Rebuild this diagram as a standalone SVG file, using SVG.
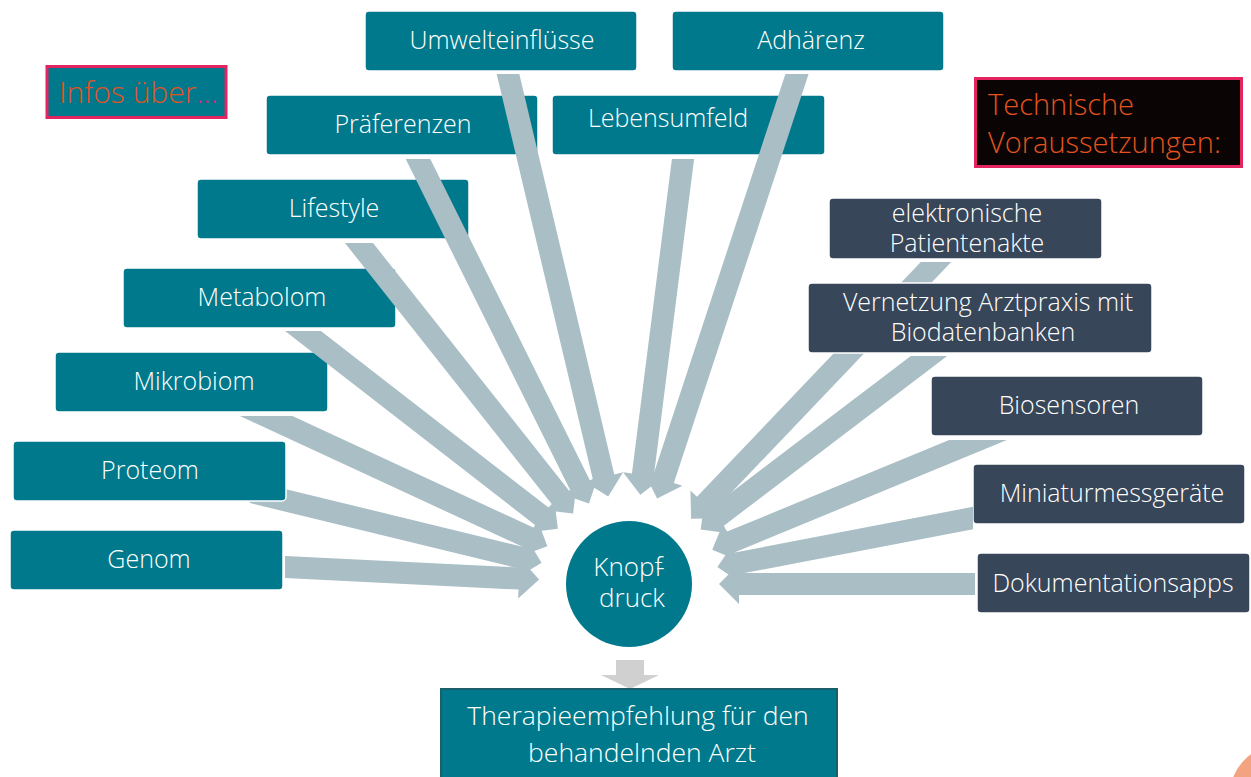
<svg xmlns="http://www.w3.org/2000/svg" width="1251" height="777" viewBox="0 0 1251 777">
<style>
.t{fill:#00798C;stroke:#ffffff;stroke-width:1.5}
.d{fill:#374659;stroke:#ffffff;stroke-width:1.5}
.lb{font-family:"Open Sans","Noto Sans",sans-serif;font-size:25px;font-weight:300;fill:#ffffff;text-anchor:middle}
.arr{fill:#AABEC5}
.hd{font-family:"Open Sans","Noto Sans",sans-serif;font-size:29px;font-weight:300;fill:#E2531F}
</style>
<rect width="1251" height="777" fill="#ffffff"/>
<circle cx="1280" cy="795" r="50" fill="#F4A380"/>

<g id="infos">
<rect x="47" y="66.5" width="179" height="51" fill="#00798C" stroke="#E3245F" stroke-width="3"/>
<text x="59" y="103" class="hd" style="font-size:30px">Infos über<tspan fill="#D1287A">…</tspan></text>
</g>
<g id="technische">
<rect x="975.5" y="78.5" width="266" height="88" fill="#0A0404" stroke="#E3245F" stroke-width="3"/>
<text x="988" y="115" class="hd">Technische<tspan x="988" dy="38">Voraussetzungen:</tspan></text>
</g>

<g id="umwelt"><rect class="t" x="365" y="11" width="272" height="60" rx="4"/><text class="lb" x="502" y="49">Umwelteinflüsse</text></g>
<g id="adhaerenz"><rect class="t" x="672" y="11" width="272" height="60" rx="4"/><text class="lb" x="811" y="49">Adhärenz</text></g>
<g id="praeferenzen"><rect class="t" x="266" y="95" width="272" height="60" rx="4"/><text class="lb" x="403" y="133">Präferenzen</text></g>
<g id="lebensumfeld"><rect class="t" x="552" y="95" width="273" height="60" rx="4"/><text class="lb" x="668" y="127">Lebensumfeld</text></g>
<g id="lifestyle"><rect class="t" x="197" y="179" width="272" height="60" rx="4"/><text class="lb" x="334" y="217">Lifestyle</text></g>
<g id="metabolom"><rect class="t" x="123" y="268" width="273" height="60" rx="4"/><text class="lb" x="262" y="306">Metabolom</text></g>
<g id="mikrobiom"><rect class="t" x="55" y="352" width="273" height="60" rx="4"/><text class="lb" x="194" y="390">Mikrobiom</text></g>
<g id="genom"><rect class="t" x="10" y="530" width="273" height="60" rx="4"/><text class="lb" x="149" y="568">Genom</text></g>

<g id="epa"><rect class="d" x="829" y="198" width="273" height="61" rx="4"/><text class="lb" x="967" y="222">elektronische<tspan x="967" dy="30">Patientenakte</tspan></text></g>
<g id="biosensoren"><rect class="d" x="931" y="376" width="272" height="60" rx="4"/><text class="lb" x="1069" y="414">Biosensoren</text></g>
<g id="miniatur"><rect class="d" x="973" y="464" width="272" height="60" rx="4"/><text class="lb" x="1112" y="502">Miniaturmessgeräte</text></g>
<g id="doku"><rect class="d" x="977" y="553" width="273" height="60" rx="4"/><text class="lb" x="1113" y="592">Dokumentationsapps</text></g>

<g id="connectors">
<polygon class="arr" points="285,578 518.59,589.56 518.14,598.55 539.11,579.56 520.12,558.59 519.67,567.58 285,556"/>
<polygon class="arr" points="250,503.07 519.52,568.68 517.39,577.42 541.55,562.72 526.85,538.56 524.72,547.3 250,480.43"/>
<polygon class="arr" points="240,416 524.56,547.77 520.78,555.94 547.33,546.19 537.58,519.64 533.8,527.81 292.4,416"/>
<polygon class="arr" points="285.06,331 535.36,525.25 529.84,532.36 557.9,528.82 554.36,500.76 548.84,507.87 320.94,331"/>
<polygon class="arr" points="344.97,243 552.09,504.59 545.03,510.18 573.13,513.44 576.39,485.35 569.33,490.93 373.03,243"/>
<polygon class="arr" points="405.72,159 570.24,490.37 562.18,494.37 588.98,503.39 598,476.59 589.94,480.59 430.28,159"/>
<polygon class="arr" points="496.69,74 592.9,479.51 584.14,481.59 608.22,496.43 623.06,472.35 614.3,474.43 519.31,74"/>
<polygon class="arr" points="671.91,159 631.95,473.49 623.02,472.36 640.34,494.72 662.7,477.4 653.77,476.27 694.09,159"/>
<polygon class="arr" points="785.42,74 652.97,476.08 644.42,473.26 657.16,498.52 682.42,485.78 673.87,482.96 808.58,74"/>
<polygon class="arr" points="920.8,262 696.94,496.79 690.43,490.58 691.1,518.86 719.38,518.18 712.86,511.97 951.2,262"/>
<polygon class="arr" points="910.82,356 709.92,508.68 704.47,501.52 700.65,529.54 728.67,533.36 723.23,526.2 947.18,356"/>
<polygon class="arr" points="949.16,440 726.49,531.87 723.06,523.55 712.2,549.67 738.32,560.53 734.89,552.21 1006.84,440"/>
<polygon class="arr" points="973,506.8 734.96,552.47 733.26,543.63 717.39,567.04 740.8,582.91 739.1,574.07 973,529.2"/>
<polygon class="arr" points="975,573 739,573 739,564 719,584 739,604 739,595 975,595"/>
<polygon fill="#D0D0D0" points="616,660 644,660 644,675 659,675 630,689 601,675 616,675"/>
</g>

<g id="proteom"><rect class="t" x="13" y="441" width="273" height="60" rx="4"/><text class="lb" x="150" y="479">Proteom</text></g>
<g id="vernetzung"><rect class="d" x="808" y="283" width="344" height="70" rx="4"/><text class="lb" x="988" y="311">Vernetzung Arztpraxis mit<tspan x="983" dy="30">Biodatenbanken</tspan></text></g>

<g id="knopfdruck">
<circle cx="629" cy="584" r="63" fill="#00798C"/>
<text class="lb" x="629" y="576" style="font-size:26px">Knopf<tspan dx="-6">-</tspan><tspan x="632" dy="31">druck</tspan></text>
</g>

<g id="therapie">
<rect x="441" y="689" width="396" height="95" fill="#00798C" stroke="#1B5F6B" stroke-width="2"/>
<text class="lb" x="638" y="725" style="font-size:26.5px">Therapieempfehlung für den<tspan x="642" dy="37">behandelnden Arzt</tspan></text>
</g>
</svg>
